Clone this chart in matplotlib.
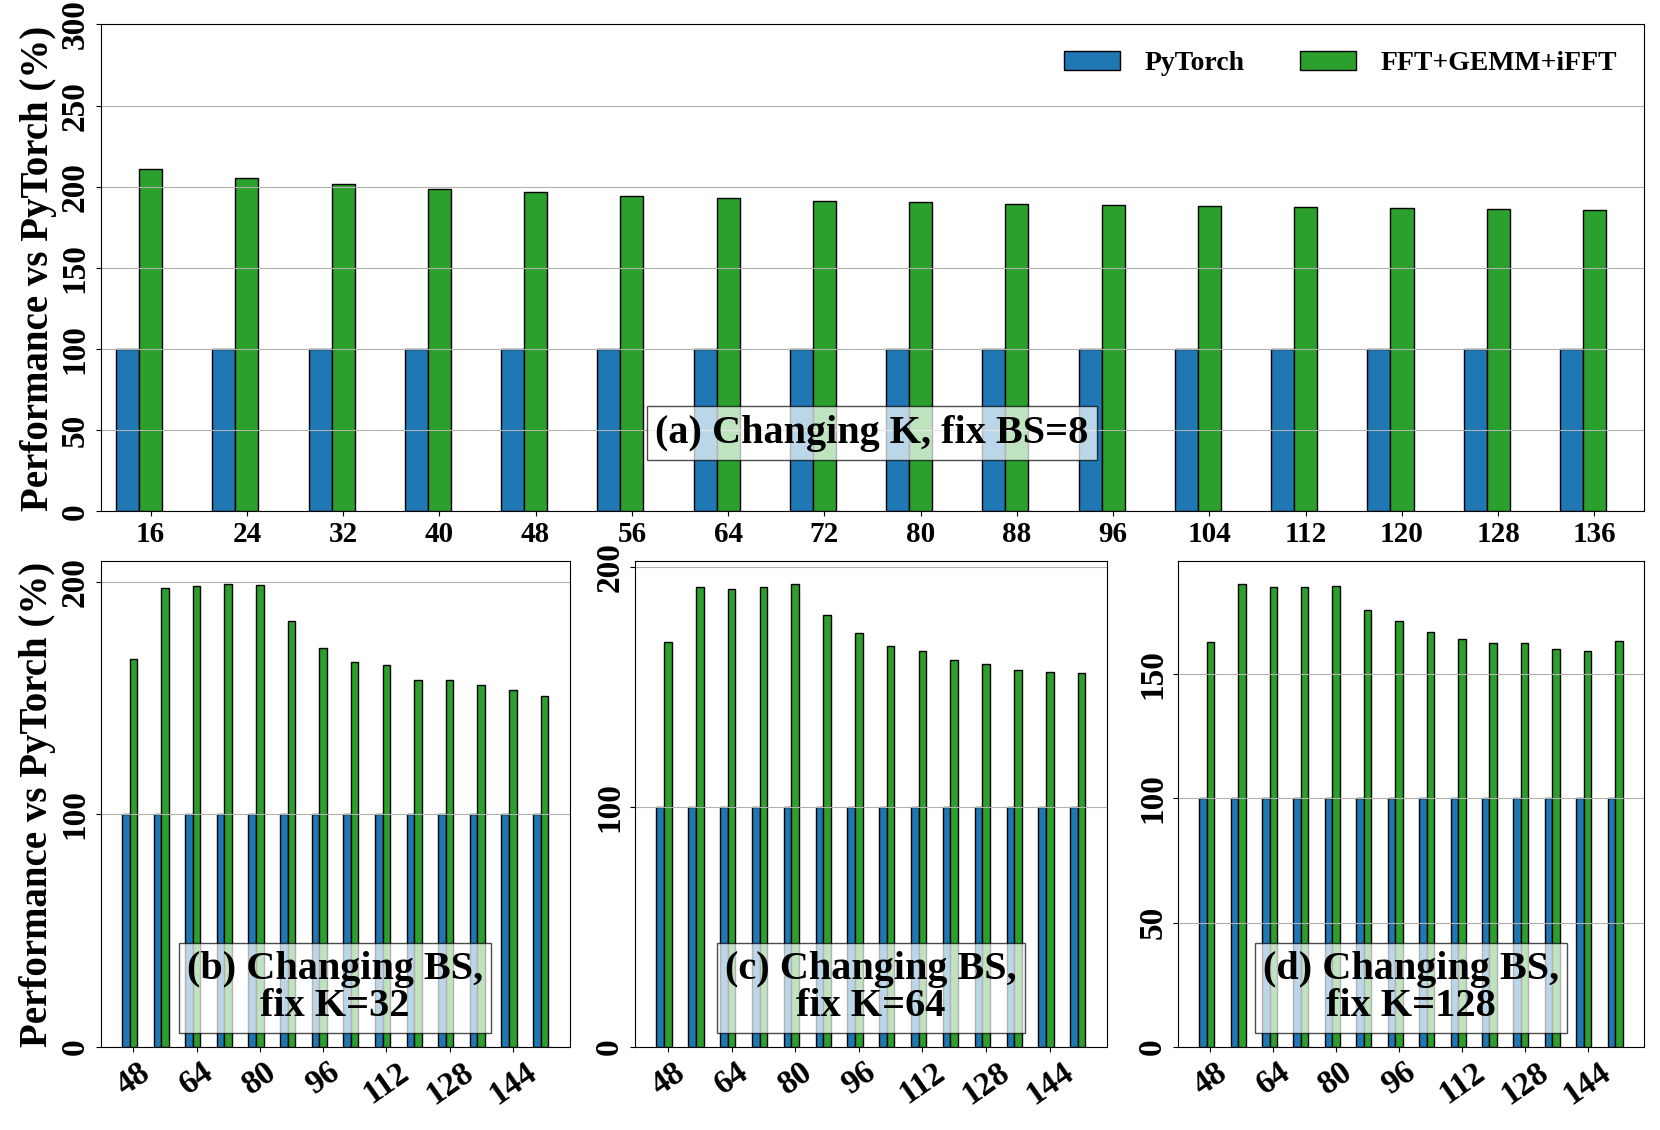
import matplotlib
matplotlib.use('Agg')
import matplotlib.pyplot as plt
import numpy as np
from matplotlib.ticker import MultipleLocator

plt.rcParams['font.family'] = ['Liberation Serif', 'DejaVu Serif']
plt.rcParams['font.weight'] = 'bold'
plt.rcParams['axes.labelweight'] = 'bold'

# (a) changing K, fix BS=8
k_vals = [16, 24, 32, 40, 48, 56, 64, 72, 80, 88, 96, 104, 112, 120, 128, 136]
pytorch_a = [100] * 16
fft_a = [211.1, 205.6, 201.9, 198.4, 196.5, 194.4, 193.0, 191.4,
         190.7, 189.5, 188.7, 188.1, 187.7, 186.9, 186.4, 185.8]

# (b)-(d) changing BS
bs_vals = [48, 56, 64, 72, 80, 88, 96, 104, 112, 120, 128, 136, 144, 152]
pytorch_bs = [100] * 14
fft_k32 = [166.9, 197.2, 198.1, 198.9, 198.5, 182.9, 171.6, 165.4,
           164.1, 157.6, 157.9, 155.4, 153.6, 150.9]
fft_k64 = [169.0, 191.9, 191.0, 191.9, 192.9, 179.9, 172.6, 167.3,
           164.9, 161.3, 159.8, 157.2, 156.1, 155.7]
fft_k128 = [162.8, 186.2, 184.9, 185.1, 185.3, 176.0, 171.2, 167.1,
            164.2, 162.4, 162.4, 160.2, 159.4, 163.3]

blue = '#1f77b4'
green = '#2ca02c'
ytick_fs = 24
label_fs = 28
title_fs = 29
legend_fs = 20

fig = plt.figure(figsize=(16.6, 11.3), dpi=100)

# ---- top panel
ax = fig.add_axes([0.0606, 0.5474, 0.9295, 0.431])
x = np.arange(len(k_vals))
w = 0.24
ax.bar(x - w, pytorch_a, w, color=blue, edgecolor='black', linewidth=1, label='PyTorch')
ax.bar(x, fft_a, w, color=green, edgecolor='black', linewidth=1, label='FFT+GEMM+iFFT')
ax.set_xlim(-0.52, len(k_vals) - 0.49)
ax.set_ylim(0, 300)
ax.yaxis.set_major_locator(MultipleLocator(50))
ax.set_xticks(x)
ax.set_xticklabels([str(k) for k in k_vals])
ax.tick_params(axis='x', labelsize=21)
ax.tick_params(axis='y', labelsize=ytick_fs, labelrotation=90)
for lab in ax.get_yticklabels():
    lab.set_va('center')
ax.grid(axis='y', color='#b0b0b0')
ax.set_ylabel('Performance vs PyTorch (%)', fontsize=label_fs, labelpad=2)
ax.legend(loc='upper right', ncol=2, frameon=False, fontsize=legend_fs,
          handlelength=2.0, columnspacing=2.0, handletextpad=0.9,
          borderaxespad=0.55)
ax.text(0.5, 0.161, '(a) Changing K, fix BS=8', transform=ax.transAxes,
        ha='center', va='center', fontsize=title_fs,
        bbox=dict(facecolor='white', alpha=0.7, boxstyle='square,pad=0.2'))

# ---- bottom panels
rects = [[0.0606, 0.0735, 0.2825, 0.43],
         [0.3825, 0.0735, 0.2843, 0.43],
         [0.7096, 0.0735, 0.2807, 0.43]]
series = [fft_k32, fft_k64, fft_k128]
titles = ['(b) Changing BS,\nfix K=32', '(c) Changing BS,\nfix K=64', '(d) Changing BS,\nfix K=128']
steps = [100, 100, 50]

xb = np.arange(len(bs_vals))
wb = 0.24
for i in range(3):
    axb = fig.add_axes(rects[i])
    axb.bar(xb - wb, pytorch_bs, wb, color=blue, edgecolor='black', linewidth=1)
    axb.bar(xb, series[i], wb, color=green, edgecolor='black', linewidth=1)
    axb.yaxis.set_major_locator(MultipleLocator(steps[i]))
    axb.set_xticks(xb[::2])
    axb.set_xticklabels([str(b) for b in bs_vals[::2]], rotation=35)
    axb.tick_params(axis='x', labelsize=24)
    axb.tick_params(axis='y', labelsize=ytick_fs, labelrotation=90)
    for lab in axb.get_yticklabels():
        lab.set_va('center')
    axb.grid(axis='y', color='#b0b0b0')
    axb.text(0.5, 0.122, titles[i], transform=axb.transAxes,
             ha='center', va='center', fontsize=title_fs, linespacing=1.0,
             bbox=dict(facecolor='white', alpha=0.7, boxstyle='square,pad=0.2'))
    if i == 0:
        axb.set_ylabel('Performance vs PyTorch (%)', fontsize=label_fs, labelpad=3)

fig.savefig('out.png', dpi=100)
